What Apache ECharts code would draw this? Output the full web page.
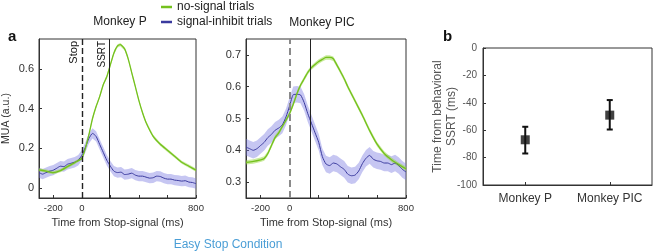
<!DOCTYPE html>
<html lang="en" style="height: 100%">
<head>
<meta charset="utf-8">
<title>MUA around Stop-signal</title>
</head>
<body style="height: 100%; margin: 0; background: #fff">
<div id="container" style="width: 658px; height: 252px"></div>

<script type="text/javascript" src="https://cdn.jsdelivr.net/npm/echarts/dist/echarts.min.js"></script>

<script type="text/javascript">

var dom = document.getElementById('container');
var myChart = echarts.init(dom);

// Monkey P, [ms from stop-signal, MUA]
var pNoSignal = [[-300,0.092],[-250,0.085],[-200,0.078],[-150,0.088],[-100,0.108],[-50,0.128],[0,0.15],[25,0.2],[50,0.27],[75,0.35],[100,0.41],[125,0.46],[150,0.52],[175,0.56],[200,0.62],[225,0.68],[250,0.715],[270,0.722],[300,0.70],[325,0.65],[350,0.58],[375,0.51],[400,0.44],[425,0.38],[450,0.33],[500,0.26],[550,0.22],[600,0.19],[650,0.16],[700,0.13],[750,0.11],[800,0.09]];
var pInhibit = [[-300,0.078],[-275,0.07],[-250,0.078],[-225,0.085],[-200,0.09],[-175,0.1],[-150,0.11],[-125,0.108],[-100,0.12],[-75,0.125],[-50,0.13],[-25,0.14],[0,0.165],[25,0.205],[50,0.25],[75,0.275],[100,0.26],[125,0.22],[150,0.18],[175,0.14],[200,0.11],[225,0.085],[250,0.078],[275,0.08],[300,0.068],[325,0.07],[350,0.075],[375,0.065],[400,0.06],[425,0.06],[450,0.055],[475,0.05],[500,0.052],[525,0.06],[550,0.058],[575,0.05],[600,0.045],[625,0.045],[650,0.04],[675,0.038],[700,0.035],[725,0.037],[750,0.03],[775,0.028],[800,0.022]];

// Monkey PIC
var picNoSignal = [[-300,0.362],[-250,0.365],[-200,0.37],[-175,0.374],[-150,0.39],[-125,0.415],[-100,0.44],[-75,0.455],[-50,0.475],[-25,0.495],[0,0.516],[25,0.545],[50,0.578],[75,0.605],[100,0.625],[125,0.645],[150,0.66],[175,0.67],[200,0.679],[225,0.686],[250,0.692],[275,0.692],[300,0.688],[325,0.668],[350,0.647],[375,0.625],[400,0.6],[450,0.555],[500,0.51],[550,0.462],[600,0.42],[650,0.39],[700,0.37],[750,0.355],[800,0.342]];
var picInhibit = [[-300,0.41],[-275,0.405],[-250,0.4],[-225,0.405],[-200,0.415],[-175,0.425],[-150,0.44],[-125,0.45],[-100,0.463],[-75,0.47],[-50,0.48],[-25,0.505],[0,0.54],[25,0.575],[50,0.576],[75,0.574],[100,0.55],[125,0.515],[150,0.485],[175,0.455],[200,0.425],[225,0.38],[250,0.357],[275,0.352],[300,0.36],[325,0.357],[350,0.348],[375,0.34],[400,0.325],[425,0.32],[450,0.322],[475,0.335],[500,0.358],[525,0.375],[550,0.384],[575,0.372],[600,0.367],[625,0.365],[650,0.36],[675,0.36],[700,0.355],[725,0.36],[750,0.352],[775,0.34],[800,0.332]];

// half-width of the shaded error bands
var pNoSignalSem = 0.008, pInhibitSem = 0.026;
var picNoSignalSem = 0.007, picInhibitSem = 0.026;

var stopTime = 0;
var ssrtP = 190;
var ssrtPIC = 140;

// panel b
var monkeys = ['Monkey P', 'Monkey PIC'];
var latency = [-67, -49];
var latencyLow = [-77, -59.5];
var latencyHigh = [-57.5, -38];

var timeTicks = [-200, 0, 200, 400, 600, 800];
var timeLabels = [-200, 0, 800];
var pTicks = [0, 0.2, 0.4, 0.6];
var picTicks = [0.3, 0.4, 0.5, 0.6, 0.7];

var green = '#74c11e';
var blue = '#3a3a9e';

function band(points, sem, color, idx) {
    return {
        type: 'custom',
        xAxisIndex: idx,
        yAxisIndex: idx,
        silent: true,
        z: 1,
        data: points.map(function (p) { return [p[0], p[1] - sem, p[1] + sem]; }),
        encode: { x: 0, y: [1, 2] },
        renderItem: function (params, api) {
            if (params.dataIndex !== 0) return;
            var up = [], down = [];
            points.forEach(function (p) {
                up.push(api.coord([p[0], p[1] + sem]));
                down.unshift(api.coord([p[0], p[1] - sem]));
            });
            return {
                type: 'polygon',
                shape: { points: up.concat(down) },
                style: { fill: color }
            };
        }
    };
}

function trace(name, points, color, idx, width) {
    return {
        name: name,
        type: 'line',
        xAxisIndex: idx,
        yAxisIndex: idx,
        data: points,
        symbol: 'none',
        smooth: 0.2,
        z: 3,
        lineStyle: { color: color, width: width },
        itemStyle: { color: color }
    };
}

var axisLine = { show: true, onZero: false, lineStyle: { color: '#333' } };

function timeAxis(idx) {
    return {
        type: 'value',
        gridIndex: idx,
        min: -300,
        max: 800,
        name: 'Time from Stop-signal (ms)',
        nameLocation: 'middle',
        nameGap: 18,
        nameTextStyle: { fontSize: 11, color: '#333' },
        axisLine: axisLine,
        axisTick: { show: true, inside: true, length: 3, customValues: timeTicks, lineStyle: { color: '#333' } },
        axisLabel: { customValues: timeLabels, fontSize: 9.5, color: '#333', margin: 5 },
        splitLine: { show: false }
    };
}

function muaAxis(idx, min, max, ticks, name) {
    return {
        type: 'value',
        gridIndex: idx,
        min: min,
        max: max,
        name: name,
        nameLocation: 'middle',
        nameGap: 27,
        nameTextStyle: { fontSize: 10.5, color: '#333' },
        axisLine: axisLine,
        axisTick: { show: true, inside: true, length: 3, customValues: ticks, lineStyle: { color: '#333' } },
        axisLabel: { customValues: ticks, fontSize: 11, color: '#333', margin: 5 },
        splitLine: { show: false }
    };
}

function markers(ssrt, dashStyle, withLabels) {
    var lab = function (txt, size) {
        return {
            show: withLabels,
            formatter: txt,
            position: 'insideEndTop',
            distance: 2,
            fontSize: size,
            color: '#111'
        };
    };
    return {
        silent: true,
        symbol: 'none',
        animation: false,
        data: [
            { xAxis: stopTime, lineStyle: dashStyle, label: lab('Stop', 11) },
            { xAxis: ssrt, lineStyle: { type: 'solid', color: '#222', width: 1 }, label: lab('SSRT', 10) }
        ]
    };
}

var gridBox = { show: true, borderColor: '#333', borderWidth: 1 };
var titleFont = { fontSize: 12, fontWeight: 'normal', color: '#222' };

var option = {
    animation: false,
    textStyle: { fontFamily: 'Liberation Sans, Arial, sans-serif' },
    title: [
        { text: 'Monkey P', left: 120, top: 16, padding: 0, textAlign: 'center', textStyle: titleFont },
        { text: 'Monkey PIC', left: 322, top: 17, padding: 0, textAlign: 'center', textStyle: titleFont },
        { text: 'a', left: 8, top: 29, padding: 0, textStyle: { fontSize: 15, fontWeight: 'bold', color: '#111' } },
        { text: 'b', left: 443, top: 29, padding: 0, textStyle: { fontSize: 15, fontWeight: 'bold', color: '#111' } },
        { text: 'Easy Stop Condition', left: 228, top: 239, padding: 0, textAlign: 'center', textStyle: { fontSize: 12, fontWeight: 'normal', color: '#4a9ed6' } }
    ],
    legend: {
        left: 156,
        top: -4,
        orient: 'vertical',
        icon: 'rect',
        itemWidth: 11,
        itemHeight: 2.5,
        itemGap: 3,
        textStyle: { fontSize: 12, color: '#222' },
        data: ['no-signal trials', 'signal-inhibit trials']
    },
    grid: [
        Object.assign({ left: 37, top: 39, width: 159, height: 159 }, gridBox),
        Object.assign({ left: 246, top: 39, width: 160, height: 159 }, gridBox),
        Object.assign({ left: 483, top: 48, width: 169, height: 137 }, gridBox)
    ],
    xAxis: [
        timeAxis(0),
        timeAxis(1),
        {
            type: 'category',
            gridIndex: 2,
            data: monkeys,
            axisLine: axisLine,
            axisTick: { show: true, inside: true, length: 3, alignWithLabel: true, lineStyle: { color: '#333' } },
            axisLabel: { interval: 0, fontSize: 12, color: '#333', margin: 8 },
            splitLine: { show: false }
        }
    ],
    yAxis: [
        muaAxis(0, -0.05, 0.75, pTicks, 'MUA (a.u.)'),
        muaAxis(1, 0.25, 0.75, picTicks, ''),
        {
            type: 'value',
            gridIndex: 2,
            min: -100,
            max: 0,
            interval: 20,
            name: 'Time from behavioral\nSSRT (ms)',
            nameLocation: 'middle',
            nameGap: 24,
            nameMoveOverlap: false,
            nameTextStyle: { fontSize: 12, color: '#555', lineHeight: 14 },
            axisLine: axisLine,
            axisTick: { show: true, inside: true, length: 3, lineStyle: { color: '#333' } },
            axisLabel: { fontSize: 10, color: '#555', margin: 6 },
            splitLine: { show: false }
        }
    ],
    series: [
        band(pInhibit, pInhibitSem, 'rgba(120,120,225,0.42)', 0),
        band(pNoSignal, pNoSignalSem, 'rgba(150,215,60,0.5)', 0),
        trace('signal-inhibit trials', pInhibit, blue, 0, 1),
        Object.assign(trace('no-signal trials', pNoSignal, green, 0, 1.3), {
            markLine: markers(ssrtP, { type: [6, 3], color: '#222', width: 1.4 }, true)
        }),

        band(picInhibit, picInhibitSem, 'rgba(120,120,225,0.42)', 1),
        band(picNoSignal, picNoSignalSem, 'rgba(150,215,60,0.5)', 1),
        trace('signal-inhibit trials', picInhibit, blue, 1, 1),
        Object.assign(trace('no-signal trials', picNoSignal, green, 1, 1.3), {
            markLine: markers(ssrtPIC, { type: [7, 4], color: '#8a8a8a', width: 2 }, false)
        }),

        {
            type: 'custom',
            xAxisIndex: 2,
            yAxisIndex: 2,
            silent: true,
            data: monkeys.map(function (m, i) { return [i, latencyLow[i], latencyHigh[i]]; }),
            encode: { x: 0, y: [1, 2] },
            renderItem: function (params, api) {
                var lo = api.coord([api.value(0), api.value(1)]);
                var hi = api.coord([api.value(0), api.value(2)]);
                var st = { stroke: '#111', lineWidth: 2 };
                return {
                    type: 'group',
                    children: [
                        { type: 'line', shape: { x1: lo[0], y1: lo[1], x2: hi[0], y2: hi[1] }, style: st },
                        { type: 'line', shape: { x1: lo[0] - 3, y1: lo[1], x2: lo[0] + 3, y2: lo[1] }, style: st },
                        { type: 'line', shape: { x1: hi[0] - 3, y1: hi[1], x2: hi[0] + 3, y2: hi[1] }, style: st }
                    ]
                };
            }
        },
        {
            type: 'scatter',
            xAxisIndex: 2,
            yAxisIndex: 2,
            symbol: 'rect',
            symbolSize: 9,
            itemStyle: { color: '#111' },
            z: 4,
            data: latency
        }
    ]
};

if (option && typeof option === 'object') {
    myChart.setOption(option);
}

window.addEventListener('resize', myChart.resize);
</script>
</body>
</html>
